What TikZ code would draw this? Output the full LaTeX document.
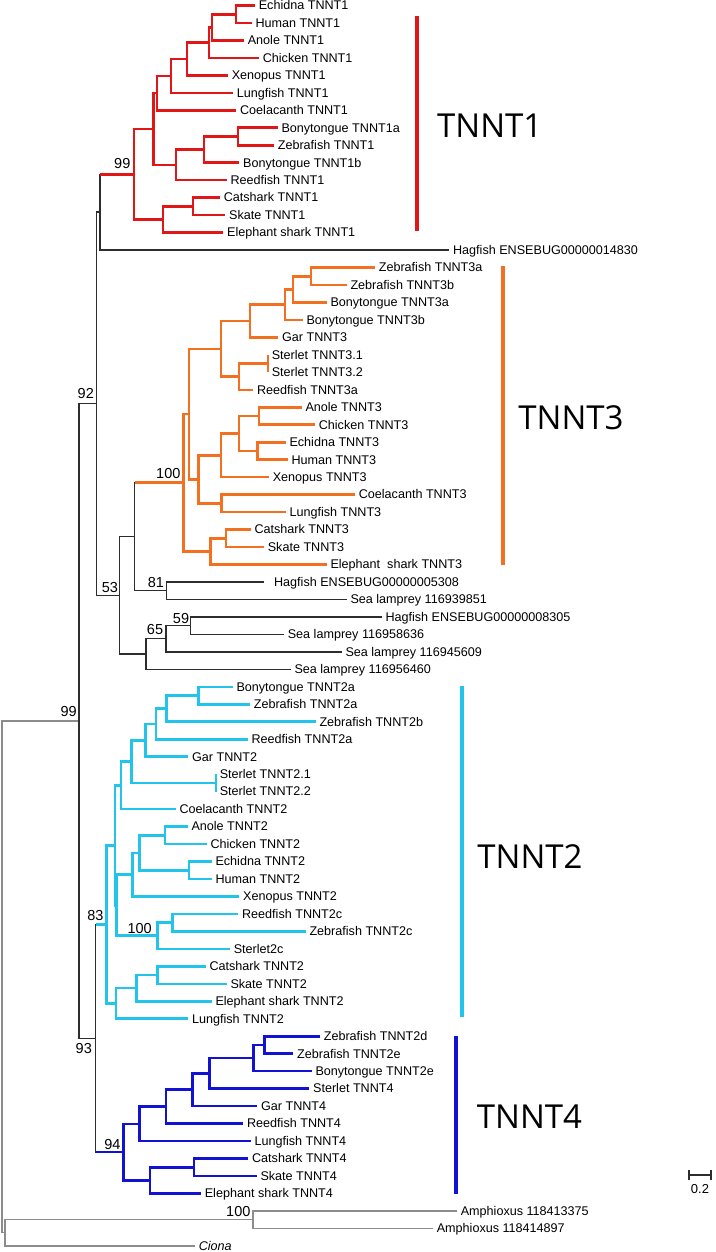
\documentclass[tikz,border=0pt]{standalone}
\usepackage{fontspec}
\setmainfont{Liberation Sans}
\newfontfamily\bigfont{Open Sans}
\usetikzlibrary{calc}
\definecolor{cTa}{RGB}{225,22,22}
\definecolor{cTc}{RGB}{242,112,32}
\definecolor{cTb}{RGB}{34,196,236}
\definecolor{cTd}{RGB}{18,18,212}
\definecolor{cBk}{RGB}{45,45,45}
\definecolor{cGy}{RGB}{140,140,140}
\newcommand\RW[1]{5.5+17.47*#1}
\newcommand\leaf[4]{\coordinate (#1) at (#2,{\RW{#3}});\node[lab] (#1-t) at (#1) {#4};}
\newcommand\inode[4]{\path let \p1=(#3), \p2=(#4) in (#2pt,{0.5*\y1+0.5*\y2}) coordinate (#1);}
\newcommand\clade[4]{\draw[#4] (#2) -| (#1 |- #3) -- (#3);}
\begin{document}
\begin{tikzpicture}[x=1pt,y=-1pt,
  lab/.style={anchor=base west,inner sep=0pt,xshift=3.6pt,yshift=-4.3pt,font=\fontsize{12.6}{14}\selectfont},
  boot/.style={anchor=center,inner sep=0pt,font=\fontsize{14.5}{16}\selectfont},
  big/.style={anchor=center,inner sep=0pt,font=\bigfont\fontsize{33}{36}\selectfont},
  sTa/.style={cTa,line width=2.6pt},
  sTc/.style={cTc,line width=2.6pt},
  sTb/.style={cTb,line width=2.6pt},
  sTd/.style={cTd,line width=2.6pt},
  sBk/.style={cBk,line width=1.4pt},
  sGy/.style={cGy,line width=1.4pt},
  cbar/.style={line width=3.8pt}]
\useasboundingbox (0,0) rectangle (715,1252);
% ---------------- TNNT1 ----------------
\leaf{a00}{255}{0}{Echidna TNNT1}
\leaf{a01}{251.7}{1}{Human TNNT1}
\leaf{a02}{244}{2}{Anole TNNT1}
\leaf{a03}{259}{3}{Chicken TNNT1}
\leaf{a04}{228}{4}{Xenopus TNNT1}
\leaf{a05}{233}{5}{Lungfish TNNT1}
\leaf{a06}{236.3}{6}{Coelacanth TNNT1}
\leaf{a07}{277.7}{7}{Bonytongue TNNT1a}
\leaf{a08}{274}{8}{Zebrafish TNNT1}
\leaf{a09}{239.3}{9}{Bonytongue TNNT1b}
\leaf{a10}{226.7}{10}{Reedfish TNNT1}
\leaf{a11}{220}{11}{Catshark TNNT1}
\leaf{a12}{225.3}{12}{Skate TNNT1}
\leaf{a13}{223.3}{13}{Elephant shark TNNT1}
\leaf{a14}{449.3}{14}{Hagfish ENSEBUG00000014830}
\inode{nJ}{236}{a00}{a01}
\inode{nI}{212}{nJ}{a02}
\inode{nH}{209}{nI}{a03}
\inode{nG}{187}{nH}{a04}
\inode{nF}{171}{nG}{a05}
\inode{nD}{157}{nF}{a06}
\inode{nL}{238}{a07}{a08}
\inode{nK}{204}{nL}{a09}
\inode{nE}{176}{nK}{a10}
\inode{nB}{153.3}{nD}{nE}
\inode{nM}{193}{a11}{a12}
\inode{nC}{163}{nM}{a13}
\inode{nA}{134}{nB}{nC}
\inode{nN}{100}{nA}{a14}
% ---------------- TNNT3 ----------------
\leaf{b15}{375}{15}{Zebrafish TNNT3a}
\leaf{b16}{346.7}{16}{Zebrafish TNNT3b}
\leaf{b17}{326.7}{17}{Bonytongue TNNT3a}
\leaf{b18}{302.7}{18}{Bonytongue TNNT3b}
\leaf{b19}{278.3}{19}{Gar TNNT3}
\leaf{b20}{268}{20}{Sterlet TNNT3.1}
\leaf{b21}{268}{21}{Sterlet TNNT3.2}
\leaf{b22}{253.3}{22}{Reedfish TNNT3a}
\leaf{b23}{301.7}{23}{Anole TNNT3}
\leaf{b24}{315}{24}{Chicken TNNT3}
\leaf{b25}{285.7}{25}{Echidna TNNT3}
\leaf{b26}{287.7}{26}{Human TNNT3}
\leaf{b27}{269}{27}{Xenopus TNNT3}
\leaf{b28}{355}{28}{Coelacanth TNNT3}
\leaf{b29}{285.7}{29}{Lungfish TNNT3}
\leaf{b30}{250.7}{30}{Catshark TNNT3}
\leaf{b31}{264}{31}{Skate TNNT3}
\leaf{b32}{326.7}{32}{Elephant\ \ shark TNNT3}
\coordinate (b33) at (264.3,{\RW{33}});
\node[lab,xshift=6pt] (b33-t) at (b33) {Hagfish ENSEBUG00000005308};
\leaf{b34}{346.7}{34}{Sea lamprey 116939851}
\leaf{b35}{381.7}{35}{Hagfish ENSEBUG00000008305}
\leaf{b36}{284}{36}{Sea lamprey 116958636}
\leaf{b37}{341.7}{37}{Sea lamprey 116945609}
\leaf{b38}{290.7}{38}{Sea lamprey 116956460}
\inode{nY}{311}{b15}{b16}
\inode{nX}{293}{nY}{b17}
\inode{nW}{285}{nX}{b18}
\inode{nT}{250}{nW}{b19}
\inode{nSt}{268}{b20}{b21}
\inode{nU}{239}{nSt}{b22}
\inode{nR}{221}{nT}{nU}
\inode{nAC}{259}{b23}{b24}
\inode{nAD}{257.7}{b25}{b26}
\inode{nAB}{239}{nAC}{nAD}
\inode{nZ}{221}{nAB}{b27}
\inode{nAA}{221.7}{b28}{b29}
\inode{nS}{198.3}{nZ}{nAA}
\inode{nQ}{189}{nR}{nS}
\inode{nCS}{226}{b30}{b31}
\inode{nSh}{210.7}{nCS}{b32}
\inode{nThree}{183.3}{nQ}{nSh}
\inode{nEi}{166.7}{b33}{b34}
\inode{nP}{134.7}{nThree}{nEi}
\inode{nHl}{190.7}{b35}{b36}
\inode{nFn}{166}{nHl}{b37}
\inode{nSx}{146}{nFn}{b38}
\inode{nFt}{119.3}{nP}{nSx}
\inode{nNt}{96.7}{nN}{nFt}
% ---------------- TNNT2 ----------------
\leaf{c39}{232.7}{39}{Bonytongue TNNT2a}
\leaf{c40}{250}{40}{Zebrafish TNNT2a}
\leaf{c41}{315.7}{41}{Zebrafish TNNT2b}
\leaf{c42}{247.7}{42}{Reedfish TNNT2a}
\leaf{c43}{188.3}{43}{Gar TNNT2}
\leaf{c44}{216}{44}{Sterlet TNNT2.1}
\leaf{c45}{216}{45}{Sterlet TNNT2.2}
\leaf{c46}{175.7}{46}{Coelacanth TNNT2}
\leaf{c47}{187.7}{47}{Anole TNNT2}
\leaf{c48}{206.7}{48}{Chicken TNNT2}
\leaf{c49}{211.7}{49}{Echidna TNNT2}
\leaf{c50}{211.7}{50}{Human TNNT2}
\leaf{c51}{239.3}{51}{Xenopus TNNT2}
\leaf{c52}{238.3}{52}{Reedfish TNNT2c}
\leaf{c53}{305.7}{53}{Zebrafish TNNT2c}
\leaf{c54}{230}{54}{Sterlet2c}
\leaf{c55}{205.7}{55}{Catshark TNNT2}
\leaf{c56}{226.7}{56}{Skate TNNT2}
\leaf{c57}{211.7}{57}{Elephant shark TNNT2}
\leaf{c58}{188.3}{58}{Lungfish TNNT2}
\inode{mA}{198.3}{c39}{c40}
\inode{mB}{166.7}{mA}{c41}
\inode{mC}{156}{mB}{c42}
\inode{mD}{145.7}{mC}{c43}
\inode{mSt}{216}{c44}{c45}
\inode{mE}{131.7}{mD}{mSt}
\inode{mF}{121}{mE}{c46}
\inode{kA}{165}{c47}{c48}
\inode{kB}{189}{c49}{c50}
\inode{kC}{139.3}{kA}{kB}
\inode{kD}{132.3}{kC}{c51}
\inode{jA}{172.7}{c52}{c53}
\inode{jB}{157.3}{jA}{c54}
\inode{kE}{116.7}{kD}{jB}
\inode{mG}{115}{mF}{kE}
\inode{dA}{157.3}{c55}{c56}
\inode{dB}{136.7}{dA}{c57}
\inode{dC}{116}{dB}{c58}
\inode{nEt}{106.7}{mG}{dC}
% ---------------- TNNT4 ----------------
\leaf{e59}{320}{59}{Zebrafish TNNT2d}
\leaf{e60}{293.3}{60}{Zebrafish TNNT2e}
\leaf{e61}{311.7}{61}{Bonytongue TNNT2e}
\leaf{e62}{309.3}{62}{Sterlet TNNT4}
\leaf{e63}{257.3}{63}{Gar TNNT4}
\leaf{e64}{243.3}{64}{Reedfish TNNT4}
\leaf{e65}{250.7}{65}{Lungfish TNNT4}
\leaf{e66}{248.3}{66}{Catshark TNNT4}
\leaf{e67}{256.7}{67}{Skate TNNT4}
\leaf{e68}{201}{68}{Elephant shark TNNT4}
\inode{qA}{264.3}{e59}{e60}
\inode{qB}{253.3}{qA}{e61}
\inode{qC}{209.3}{qB}{e62}
\inode{qD}{192.7}{qC}{e63}
\inode{qE}{166}{qD}{e64}
\inode{qF}{139.3}{qE}{e65}
\inode{fA}{194}{e66}{e67}
\inode{fB}{150}{fA}{e68}
\inode{nNf}{123.3}{qF}{fB}
\inode{nNth}{95.7}{nEt}{nNf}
\inode{nV}{79}{nNt}{nNth}
% ---------------- outgroups ----------------
\leaf{g69}{457}{69}{Amphioxus 118413375}
\leaf{g70}{433}{70}{Amphioxus 118414897}
\leaf{g71}{195}{71}{\textit{Ciona}}
\inode{nAm}{253}{g69}{g70}
\inode{nOG}{5}{nAm}{g71}
\inode{nRoot}{2}{nV}{nOG}
% ---------------- branches ----------------
\clade{nRoot}{nV}{nOG}{sGy}
\clade{nOG}{nAm}{g71}{sGy}
\clade{nAm}{g69}{g70}{sGy}
\clade{nV}{nNt}{nNth}{sBk}
\clade{nNt}{nN}{nFt}{sBk}
\clade{nN}{nA}{a14}{sBk}
\clade{nFt}{nP}{nSx}{sBk}
\clade{nP}{nThree}{nEi}{sBk}
\clade{nEi}{b33}{b34}{sBk}
\clade{nSx}{nFn}{b38}{sBk}
\clade{nFn}{nHl}{b37}{sBk}
\clade{nHl}{b35}{b36}{sBk}
\clade{nNth}{nEt}{nNf}{sBk}
% TNNT1
\draw[sTa] (nN |- nA) -- (nA);
\clade{nA}{nB}{nC}{sTa}
\clade{nB}{nD}{nE}{sTa}
\clade{nD}{nF}{a06}{sTa}
\clade{nF}{nG}{a05}{sTa}
\clade{nG}{nH}{a04}{sTa}
\clade{nH}{nI}{a03}{sTa}
\clade{nI}{nJ}{a02}{sTa}
\clade{nJ}{a00}{a01}{sTa}
\clade{nE}{nK}{a10}{sTa}
\clade{nK}{nL}{a09}{sTa}
\clade{nL}{a07}{a08}{sTa}
\clade{nC}{nM}{a13}{sTa}
\clade{nM}{a11}{a12}{sTa}
% TNNT3
\draw[sTc] (nP |- nThree) -- (nThree);
\clade{nThree}{nQ}{nSh}{sTc}
\clade{nQ}{nR}{nS}{sTc}
\clade{nR}{nT}{nU}{sTc}
\clade{nT}{nW}{b19}{sTc}
\clade{nW}{nX}{b18}{sTc}
\clade{nX}{nY}{b17}{sTc}
\clade{nY}{b15}{b16}{sTc}
\clade{nU}{nSt}{b22}{sTc}
\clade{nSt}{b20}{b21}{sTc}
\clade{nS}{nZ}{nAA}{sTc}
\clade{nZ}{nAB}{b27}{sTc}
\clade{nAB}{nAC}{nAD}{sTc}
\clade{nAC}{b23}{b24}{sTc}
\clade{nAD}{b25}{b26}{sTc}
\clade{nAA}{b28}{b29}{sTc}
\clade{nSh}{nCS}{b32}{sTc}
\clade{nCS}{b30}{b31}{sTc}
% TNNT2
\draw[sTb] (nNth |- nEt) -- (nEt);
\clade{nEt}{mG}{dC}{sTb}
\clade{mG}{mF}{kE}{sTb}
\clade{mF}{mE}{c46}{sTb}
\clade{mE}{mD}{mSt}{sTb}
\clade{mSt}{c44}{c45}{sTb}
\clade{mD}{mC}{c43}{sTb}
\clade{mC}{mB}{c42}{sTb}
\clade{mB}{mA}{c41}{sTb}
\clade{mA}{c39}{c40}{sTb}
\clade{kE}{kD}{jB}{sTb}
\clade{kD}{kC}{c51}{sTb}
\clade{kC}{kA}{kB}{sTb}
\clade{kA}{c47}{c48}{sTb}
\clade{kB}{c49}{c50}{sTb}
\clade{jB}{jA}{c54}{sTb}
\clade{jA}{c52}{c53}{sTb}
\clade{dC}{dB}{c58}{sTb}
\clade{dB}{dA}{c57}{sTb}
\clade{dA}{c55}{c56}{sTb}
% TNNT4
\draw[sTd] (nNth |- nNf) -- (nNf);
\clade{nNf}{qF}{fB}{sTd}
\clade{qF}{qE}{e65}{sTd}
\clade{qE}{qD}{e64}{sTd}
\clade{qD}{qC}{e63}{sTd}
\clade{qC}{qB}{e62}{sTd}
\clade{qB}{qA}{e61}{sTd}
\clade{qA}{e59}{e60}{sTd}
\clade{fB}{fA}{e68}{sTd}
\clade{fA}{e66}{e67}{sTd}
% ---------------- support values ----------------
\node[boot] (s1) at (122.3,163.3) {99};
\node[boot] (s2) at (85.8,393.3) {92};
\node[boot] (s3) at (168.3,473.7) {100};
\node[boot] (s4) at (156,583) {81};
\node[boot] (s5) at (110,588) {53};
\node[boot] (s6) at (155,630) {65};
\node[boot] (s7) at (181,618.7) {59};
\node[boot] (s8) at (68.7,711.7) {99};
\node[boot] (s9) at (95.5,915) {83};
\node[boot] (s10) at (139.7,928.7) {100};
\node[boot] (s11) at (83.8,1048.7) {93};
\node[boot] (s12) at (112.5,1144.7) {94};
\node[boot] (s13) at (238.3,1211.7) {100};
% ---------------- clade bars ----------------
\draw[cbar,cTa] (417.3,16) -- (417.3,230.7);
\node[big] (L1) at (489.7,125.5) {TNNT1};
\draw[cbar,cTc] (502.7,266) -- (502.7,565);
\node[big] (L3) at (571,418) {TNNT3};
\draw[cbar,cTb] (462,686) -- (462,1017);
\node[big] (L2) at (530,857) {TNNT2};
\draw[cbar,cTd] (456,1036) -- (456,1194);
\node[big] (L4) at (529.5,1117) {TNNT4};
% ---------------- scale bar ----------------
\coordinate (sbA) at (689,1175);
\coordinate (sbB) at (711,1175);
\draw[cBk,line width=1.1pt] (sbA) -- (sbB);
\draw[cBk,line width=1.1pt] ([yshift=5pt]sbA) -- ([yshift=-5pt]sbA);
\draw[cBk,line width=1.1pt] ([yshift=5pt]sbB) -- ([yshift=-5pt]sbB);
\node[anchor=center,inner sep=0pt,font=\fontsize{13}{15}\selectfont] (sbT) at (700,1189) {0.2};
\end{tikzpicture}
\end{document}
